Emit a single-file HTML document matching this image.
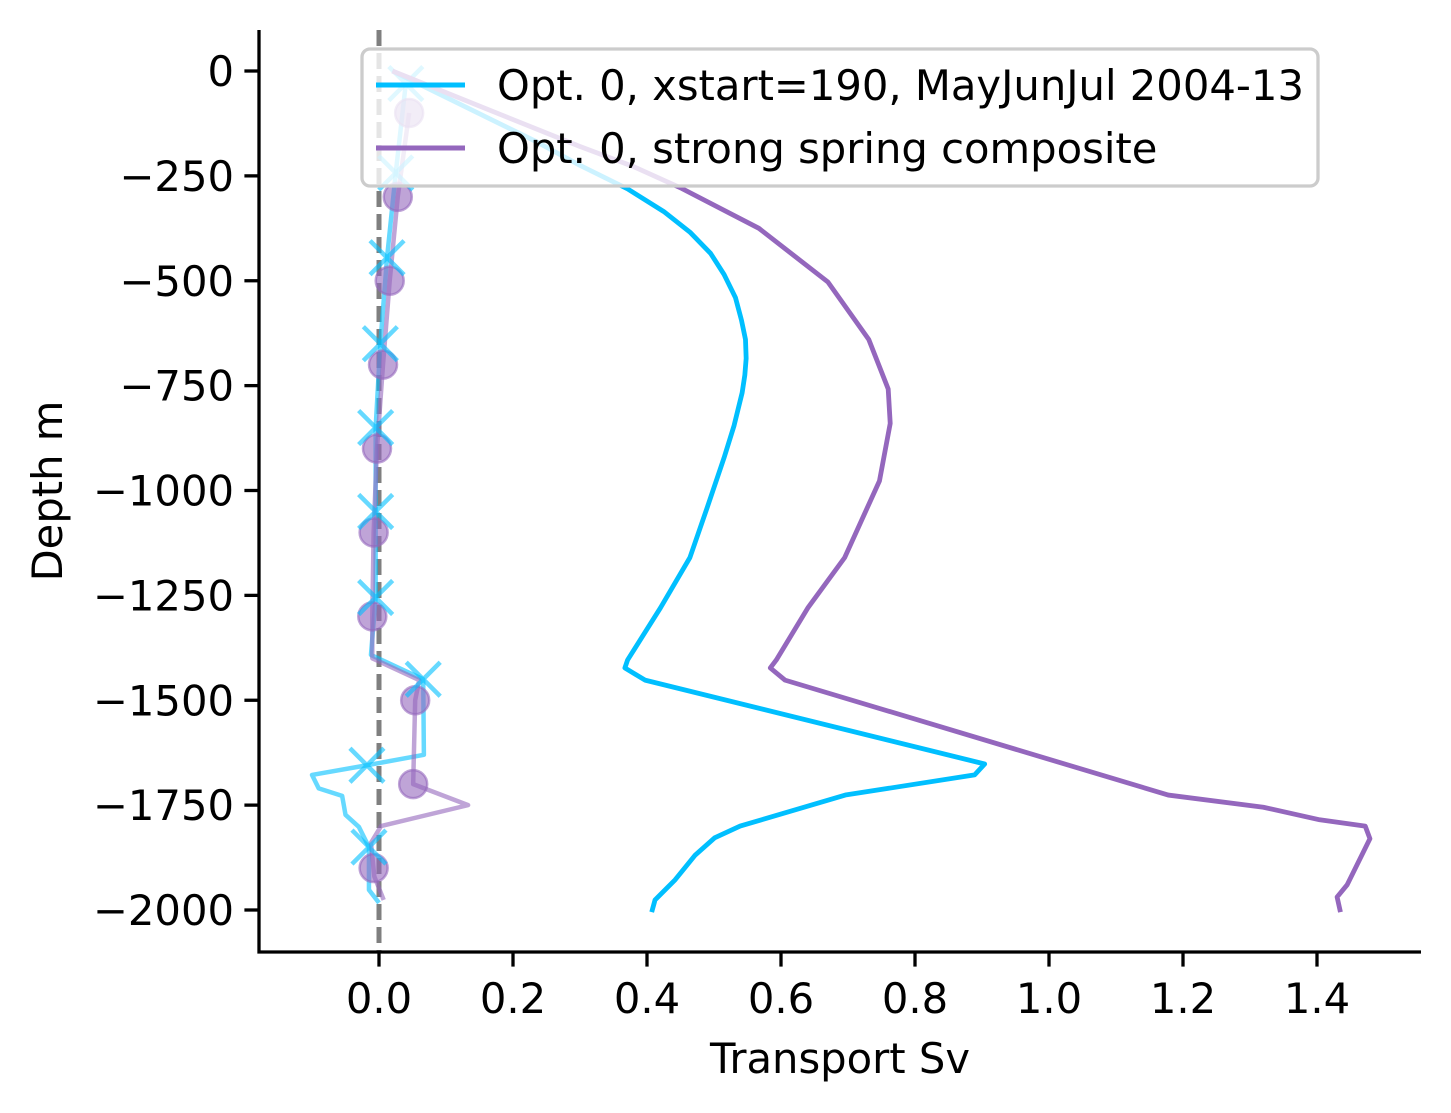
<!DOCTYPE html>
<html><head><meta charset="utf-8"><style>
html,body{margin:0;padding:0;background:#fff}
svg{display:block}
text{font-family:"DejaVu Sans","Liberation Sans",sans-serif;fill:#000}
</style></head><body>
<svg id="chart" width="1451" height="1113" viewBox="0 0 1451 1113" xmlns="http://www.w3.org/2000/svg">
<g id="plot"></g>
<g id="axes"></g>
<g id="legend"></g>
</svg>
<script>
// ---- data ----
const xTicks = [0.0, 0.2, 0.4, 0.6, 0.8, 1.0, 1.2, 1.4];
const xTickLabels = ["0.0","0.2","0.4","0.6","0.8","1.0","1.2","1.4"];
const yTicks = [0, -250, -500, -750, -1000, -1250, -1500, -1750, -2000];
const yTickLabels = ["0","\u2212250","\u2212500","\u2212750","\u22121000","\u22121250","\u22121500","\u22121750","\u22122000"];

const blueMainX = [0.02,0.233,0.30,0.371,0.425,0.464,0.495,0.515,0.532,0.541,0.547,0.548,0.546,0.542,0.53,0.515,0.49,0.464,0.42,0.371,0.367,0.397,0.904,0.889,0.696,0.539,0.501,0.472,0.442,0.412,0.407];
const blueMainD = [0,-167,-225,-281,-335,-384,-435,-485,-540,-594,-640,-685,-725,-767,-845,-922,-1040,-1160,-1280,-1404,-1423,-1452,-1652,-1678,-1726,-1800,-1828,-1869,-1928,-1976,-2005];

const purpleMainX = [0.02,0.30,0.38,0.452,0.567,0.670,0.731,0.760,0.763,0.747,0.695,0.64,0.593,0.584,0.606,1.178,1.32,1.404,1.472,1.479,1.445,1.43,1.435];
const purpleMainD = [0,-180,-228,-280,-375,-503,-640,-758,-840,-977,-1160,-1280,-1404,-1423,-1452,-1726,-1755,-1785,-1800,-1830,-1940,-1969,-2005];

const blueObsLineX = [0.04,0.025,0.012,0.002,-0.005,-0.005,-0.005,-0.012,0.066,0.067,-0.018,-0.10,-0.09,-0.055,-0.05,-0.03,-0.015,-0.015,0.0];
const blueObsLineD = [-30,-243,-445,-650,-850,-1050,-1255,-1392,-1450,-1630,-1655,-1678,-1710,-1728,-1773,-1802,-1850,-1952,-1983];
const blueMarkX = [0.04,0.025,0.012,0.002,-0.005,-0.005,-0.005,0.066,-0.018,-0.015];
const blueMarkD = [-30,-243,-445,-650,-850,-1050,-1255,-1450,-1655,-1850];

const purpleObsLineX = [0.045,0.028,0.016,0.006,-0.003,-0.008,-0.01,-0.01,0.06,0.054,0.051,0.133,0.003,-0.012,-0.007,0.007];
const purpleObsLineD = [-100,-300,-500,-700,-900,-1100,-1300,-1400,-1452,-1500,-1700,-1750,-1800,-1840,-1920,-1976];
const purpleCircX = [0.045,0.028,0.016,0.006,-0.003,-0.008,-0.01,0.054,0.051,-0.008];
const purpleCircD = [-100,-300,-500,-700,-900,-1100,-1300,-1500,-1700,-1900];

// ---- scales ----
const L=259,R=1421,T=30,B=952;
const sx = v => 379 + 670*v;
const sy = d => 71 - 0.4195*d;
const NS="http://www.w3.org/2000/svg";
function mk(tag, parent){const e=document.createElementNS(NS,tag);parent.appendChild(e);return e;}
const plot=document.getElementById('plot'), axes=document.getElementById('axes'), leg=document.getElementById('legend');

function line(xs, ds, color, w, op, name){
  const p=mk('path',plot);
  p.setAttribute('d', 'M'+xs.map((v,i)=>sx(v)+','+sy(ds[i])).join('L'));
  p.setAttribute('fill','none');p.setAttribute('stroke',color);p.setAttribute('stroke-width',w);
  p.setAttribute('stroke-opacity',op);p.setAttribute('stroke-linejoin','round');
  
  
}

// zero line
const zl=mk('line',plot);
zl.setAttribute('x1',sx(0));zl.setAttribute('x2',sx(0));zl.setAttribute('y1',T);zl.setAttribute('y2',B);
zl.setAttribute('stroke','#7f7f7f');zl.setAttribute('stroke-width','5');zl.setAttribute('stroke-dasharray','16 7');



line(blueObsLineX, blueObsLineD, '#00bfff', 4.5, 0.6, 'blue-observed-line');
line(purpleObsLineX, purpleObsLineD, '#9467bd', 4.5, 0.6, 'purple-observed-line');

purpleCircX.forEach((v,i)=>{
  const c=mk('circle',plot);
  c.setAttribute('cx',sx(v));c.setAttribute('cy',sy(purpleCircD[i]));c.setAttribute('r',14);
  c.setAttribute('fill','#9467bd');c.setAttribute('fill-opacity','0.6');c.setAttribute('stroke','#9467bd');c.setAttribute('stroke-opacity','0.6');c.setAttribute('stroke-width','2.5');
  
  
});
blueMarkX.forEach((v,i)=>{
  const x=sx(v), y=sy(blueMarkD[i]), h=17;
  const p=mk('path',plot);
  p.setAttribute('d',`M${x-h},${y-h}L${x+h},${y+h}M${x-h},${y+h}L${x+h},${y-h}`);
  p.setAttribute('stroke','#00bfff');p.setAttribute('stroke-opacity','0.6');p.setAttribute('stroke-width','4.5');
  
  
});

line(blueMainX, blueMainD, '#00bfff', 4.8, 1, 'blue-model-line');
line(purpleMainX, purpleMainD, '#9467bd', 4.8, 1, 'purple-model-line');

// axes
const sp=mk('path',axes);
sp.setAttribute('d',`M${L},${T}L${L},${B}L${R},${B}`);
sp.setAttribute('fill','none');sp.setAttribute('stroke','#000');sp.setAttribute('stroke-width','3.3');



xTicks.forEach((v,i)=>{
  const t=mk('line',axes);
  t.setAttribute('x1',sx(v));t.setAttribute('x2',sx(v));t.setAttribute('y1',B);t.setAttribute('y2',B+14.6);
  t.setAttribute('stroke','#000');t.setAttribute('stroke-width','3.3');
  
  
  const tx=mk('text',axes);
  tx.setAttribute('x',sx(v));tx.setAttribute('y',1013);tx.setAttribute('text-anchor','middle');tx.setAttribute('font-size','41.7');
  tx.textContent=xTickLabels[i];
  
  
});
yTicks.forEach((d,i)=>{
  const t=mk('line',axes);
  t.setAttribute('x1',L-14.6);t.setAttribute('x2',L);t.setAttribute('y1',sy(d));t.setAttribute('y2',sy(d));
  t.setAttribute('stroke','#000');t.setAttribute('stroke-width','3.3');
  
  
  const tx=mk('text',axes);
  tx.setAttribute('x',L-25);tx.setAttribute('y',sy(d)+15);tx.setAttribute('text-anchor','end');tx.setAttribute('font-size','41.7');
  tx.textContent=yTickLabels[i];
  
  
});
const xl=mk('text',axes);
xl.setAttribute('x',840);xl.setAttribute('y',1073);xl.setAttribute('text-anchor','middle');xl.setAttribute('font-size','41.7');
xl.textContent='Transport Sv';


const yl=mk('text',axes);
yl.setAttribute('transform','translate(62,491) rotate(-90)');yl.setAttribute('text-anchor','middle');yl.setAttribute('font-size','41.7');
yl.textContent='Depth m';



// legend
const lb=mk('rect',leg);
lb.setAttribute('x',362);lb.setAttribute('y',49);lb.setAttribute('width',956);lb.setAttribute('height',137);lb.setAttribute('rx',8);
lb.setAttribute('fill','#fff');lb.setAttribute('fill-opacity','0.8');lb.setAttribute('stroke','#ccc');lb.setAttribute('stroke-width','3.3');


const entries=[['#00bfff','Opt. 0, xstart=190, MayJunJul 2004-13',85],['#9467bd','Opt. 0, strong spring composite',148]];
entries.forEach(e=>{
  const l=mk('line',leg);
  l.setAttribute('x1',376);l.setAttribute('x2',465);l.setAttribute('y1',e[2]);l.setAttribute('y2',e[2]);
  l.setAttribute('stroke',e[0]);l.setAttribute('stroke-width','5');
  
  
  const t=mk('text',leg);
  t.setAttribute('x',497);t.setAttribute('y',e[2]+15);t.setAttribute('font-size','41.7');
  t.textContent=e[1];
  
  
});
</script>
</body></html>
